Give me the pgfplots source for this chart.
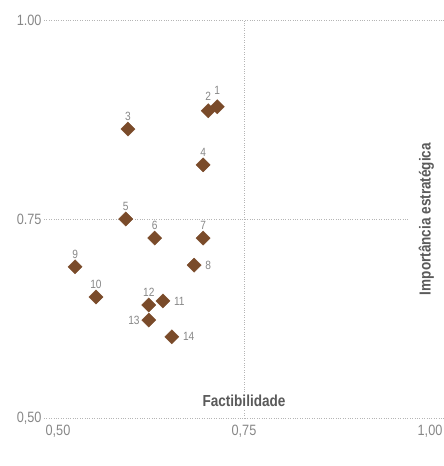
\documentclass[border=0pt]{standalone}
\usepackage{fontspec}
\setmainfont{Liberation Sans}[FakeStretch=0.85]
\usepackage{pgfplots}
\pgfplotsset{compat=1.18}
\definecolor{brown1}{HTML}{7A4B2A}
\definecolor{txt}{HTML}{878787}
\definecolor{lbl}{HTML}{5A5A5A}
\definecolor{gridc}{HTML}{B5B5B5}

% points grouped by where their number sits
\pgfplotstableread{
x y lab
0.594 0.863 3
0.695 0.818 4
0.591 0.750 5
0.630 0.726 6
0.695 0.726 7
0.523 0.690 9
0.551 0.652 10
0.622 0.642 12
}\above
\pgfplotstableread{
x y lab
0.683 0.692 8
0.641 0.647 11
0.653 0.602 14
}\right
\pgfplotstableread{
x y lab
0.622 0.623 13
}\left
\pgfplotstableread{
x y lab
0.702 0.886 2
}\aboveleft
\pgfplotstableread{
x y lab
0.714 0.891 1
}\aboveright

\begin{document}
\begin{tikzpicture}
\begin{axis}[
    width=400bp, height=398bp,
    scale only axis,
    xmin=0.4812, xmax=1.0188,
    ymin=0.5, ymax=1.0,
    xtick={0.5,0.75,1.0},
    xticklabels={{0,50},{0,75},{1,00}},
    ytick={0.5,0.75,1.0},
    yticklabels={{0,50},{0.75},{1.00}},
    axis line style={draw=none},
    tick style={draw=none},
    ymajorgrids=true,
    extra x ticks={0.75},
    extra x tick labels={},
    extra x tick style={grid=major},
    grid style={gridc, dotted, line width=0.6pt},
    ticklabel style={font=\fontsize{15}{17}\selectfont, text=txt},
    xticklabel style={yshift=-4bp},
    yticklabel style={xshift=1bp},
    clip=false,
    mystyle/.style={only marks, mark=square*, mark size=5bp,
        mark options={rotate=45, fill=brown1, draw=brown1},
        nodes near coords={\pgfplotspointmeta},
        point meta=explicit symbolic,
        every node near coord/.append style={font=\fontsize{12}{14}\selectfont, text=txt, inner sep=1bp}},
]
\node[fill=white, text=lbl, font=\bfseries\fontsize{16}{18}\selectfont, inner xsep=2bp, inner ysep=3bp]
    at (axis cs:0.75,0.521) {Factibilidade};
\node[fill=white, text=lbl, font=\bfseries\fontsize{16}{18}\selectfont, inner xsep=2bp, inner ysep=10bp, rotate=90]
    at (axis cs:0.995,0.75) {Importância estratégica};
\addplot[mystyle, nodes near coords align={above}, every node near coord/.append style={yshift=7bp}]
    table[x=x, y=y, meta=lab] {\above};
\addplot[mystyle, nodes near coords align={right}, every node near coord/.append style={xshift=10bp}]
    table[x=x, y=y, meta=lab] {\right};
\addplot[mystyle, nodes near coords align={left}, every node near coord/.append style={xshift=-8bp}]
    table[x=x, y=y, meta=lab] {\left};
\addplot[mystyle, nodes near coords align={above}, every node near coord/.append style={yshift=9bp}]
    table[x=x, y=y, meta=lab] {\aboveleft};
\addplot[mystyle, nodes near coords align={above}, every node near coord/.append style={yshift=11bp}]
    table[x=x, y=y, meta=lab] {\aboveright};
\end{axis}
\pgfresetboundingbox
\path ([shift={(-44bp,-48bp)}]current axis.south west) rectangle ([shift={(0bp,20bp)}]current axis.north east);
\end{tikzpicture}
\end{document}
